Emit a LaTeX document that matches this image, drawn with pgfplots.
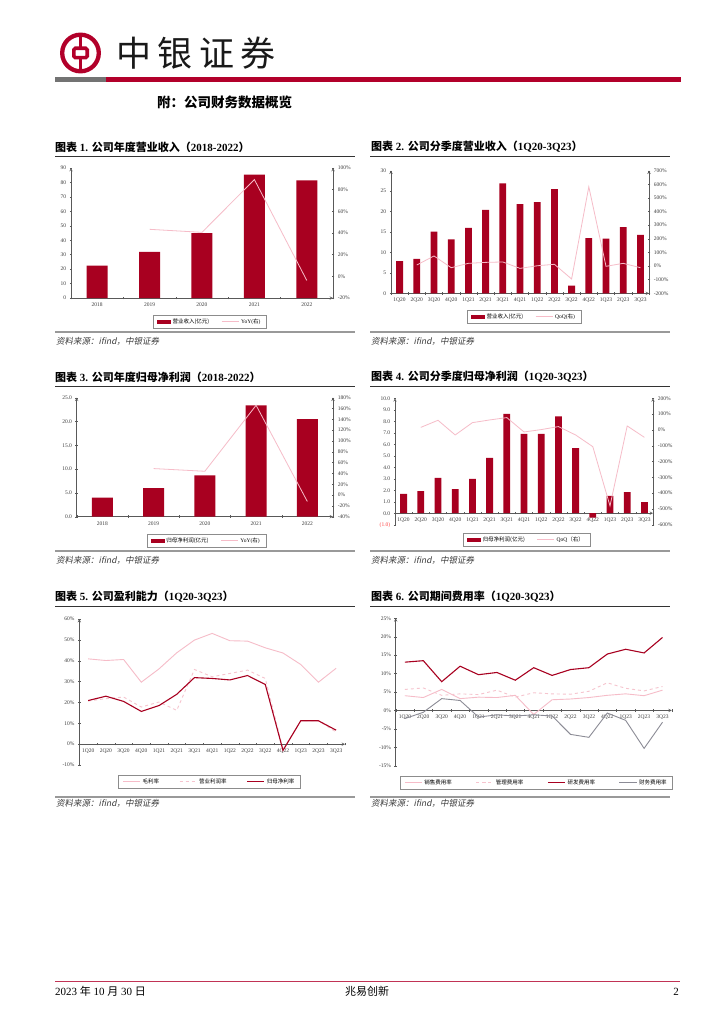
\documentclass[border=0pt]{standalone}
\usepackage{fontspec}
\setmainfont{Liberation Serif}
\newfontfamily\cjk{Noto Sans CJK SC}
\newfontfamily\cjki[FakeSlant=0.2]{Noto Sans CJK SC}
\usepackage{pgfplots}
\pgfplotsset{compat=1.18}
\definecolor{barred}{RGB}{168,0,32}
\definecolor{hdrred}{RGB}{178,0,42}
\definecolor{pinkl}{RGB}{246,188,200}
\definecolor{pinkd}{RGB}{246,196,206}
\definecolor{grayl}{RGB}{140,140,150}
\definecolor{txt}{RGB}{60,60,60}
\newcommand{\C}[1]{{\cjk #1}}
\newcommand{\T}[1]{{\cjk\bfseries #1}}
\pgfplotsset{
  base/.style={scale only axis, anchor=south west, enlargelimits=false,
    font=\fontsize{5.5}{6}\selectfont,
    /pgf/number format/assume math mode=true,
    tick label style={text=txt},
    hide obscured x ticks=false, hide obscured y ticks=false,
    axis line style={black!65, line width=0.5pt},
    every inner x axis line/.append style={-},
    every outer x axis line/.append style={-},
    every inner y axis line/.append style={-},
    every outer y axis line/.append style={-},
    every tick/.style={black!65, line width=0.4pt},
    major tick length=2.5pt,
    tick align=outside,
    clip=false,
    legend style={draw=black!45, line width=0.4pt, font=\fontsize{5.5}{6}\selectfont,
      inner xsep=4pt, inner ysep=1.5pt, legend columns=-1, anchor=north,
      /tikz/every even column/.append style={column sep=10pt}},
  },
  qlab/.style={xmin=-0.5, xmax=14.5, xtick={-0.5,0.5,...,14.5}, x tick label as interval,
    xticklabels={1Q20,2Q20,3Q20,4Q20,1Q21,2Q21,3Q21,4Q21,1Q22,2Q22,3Q22,4Q22,1Q23,2Q23,3Q23}},
  ylab/.style={xmin=-0.5, xmax=4.5, xtick={-0.5,0.5,...,4.5}, x tick label as interval,
    xticklabels={2018,2019,2020,2021,2022}},
  pct/.style={yticklabel={\pgfmathprintnumber{\tick}\%}},
  barlegend/.style={legend image code/.code={\fill[barred] (0pt,-1.6pt) rectangle (13pt,1.6pt);}},
}
\begin{document}
\begin{tikzpicture}
\path[fill=white, use as bounding box] (0,0) rectangle (724pt,-1024pt);
% ---------- header ----------
\draw[hdrred, line width=4.3pt] (80.5pt,-53pt) circle (18.3pt);
\draw[hdrred, line width=3.6pt, rounded corners=1.5pt] (73.8pt,-48.3pt) rectangle (87.2pt,-57.7pt);
\draw[hdrred, line width=3.6pt] (80.5pt,-34pt) -- (80.5pt,-48.3pt);
\draw[hdrred, line width=3.6pt] (80.5pt,-57.7pt) -- (80.5pt,-72pt);
\node[anchor=west, inner sep=0pt, text=black!90] at (116pt,-53pt) {\cjk\fontsize{35}{36}\selectfont 中\hspace{6.5pt}银\hspace{6.5pt}证\hspace{6.5pt}券};
\fill[black!55] (55pt,-77.5pt) rectangle (105.5pt,-82.5pt);
\fill[hdrred] (105.5pt,-77.5pt) rectangle (681pt,-82.5pt);
\node[anchor=west, inner sep=0pt] at (157pt,-102pt) {\cjk\bfseries\fontsize{13.5}{14}\selectfont 附：公司财务数据概览};
% ---------- titles ----------
\node[anchor=west, inner sep=0pt] at (55pt,-147pt) {\fontsize{11}{12}\selectfont\T{图表} \textbf{1.} \T{公司年度营业收入（}\textbf{2018-2022}\T{）}};
\node[anchor=west, inner sep=0pt] at (371pt,-147pt) {\fontsize{11}{12}\selectfont\T{图表} \textbf{2.} \T{公司分季度营业收入（}\textbf{1Q20-3Q23}\T{）}};
\node[anchor=west, inner sep=0pt] at (55pt,-377pt) {\fontsize{11}{12}\selectfont\T{图表} \textbf{3.} \T{公司年度归母净利润（}\textbf{2018-2022}\T{）}};
\node[anchor=west, inner sep=0pt] at (371pt,-377pt) {\fontsize{11}{12}\selectfont\T{图表} \textbf{4.} \T{公司分季度归母净利润（}\textbf{1Q20-3Q23}\T{）}};
\node[anchor=west, inner sep=0pt] at (55pt,-597pt) {\fontsize{11}{12}\selectfont\T{图表} \textbf{5.} \T{公司盈利能力（}\textbf{1Q20-3Q23}\T{）}};
\node[anchor=west, inner sep=0pt] at (371pt,-597pt) {\fontsize{11}{12}\selectfont\T{图表} \textbf{6.} \T{公司期间费用率（}\textbf{1Q20-3Q23}\T{）}};
\foreach \yy in {156,386,606} {
  \draw[black!80, line width=0.8pt] (55pt,-\yy pt) -- (355pt,-\yy pt);
  \draw[black!80, line width=0.8pt] (370pt,-\yy pt) -- (670pt,-\yy pt);
}
% ---------- sources ----------
\foreach \yy/\ty in {332/341, 551/560, 797/803} {
  \draw[black!40, line width=1.6pt] (55pt,-\yy pt) -- (355pt,-\yy pt);
  \draw[black!40, line width=1.6pt] (370pt,-\yy pt) -- (670pt,-\yy pt);
  \node[anchor=west, inner sep=0pt, text=txt] at (56pt,-\ty pt) {\cjki\fontsize{8.5}{9}\selectfont 资料来源：\textit{ifind}，中银证券};
  \node[anchor=west, inner sep=0pt, text=txt] at (371pt,-\ty pt) {\cjki\fontsize{8.5}{9}\selectfont 资料来源：\textit{ifind}，中银证券};
}
% ---------- footer ----------
\draw[hdrred!80, line width=1.2pt] (55pt,-981.5pt) -- (680pt,-981.5pt);
\node[anchor=west, inner sep=0pt] at (55pt,-991.5pt) {\fontsize{11}{12}\selectfont 2023 \C{年} 10 \C{月} 30 \C{日}};
\node[inner sep=0pt] at (367pt,-991.5pt) {\fontsize{11}{12}\selectfont\C{兆易创新}};
\node[anchor=east, inner sep=0pt] at (679pt,-991.5pt) {\fontsize{11}{12}\selectfont 2};

% ================= Chart 1 =================
\begin{axis}[base, ylab, ybar, bar width=21pt, at={(71pt,-298pt)}, width=262pt, height=130pt,
  ymin=0, ymax=90, ytick={0,10,...,90},
  axis x line=bottom, axis y line=left]
\addplot[fill=barred, draw=none] coordinates {(0,22.5)(1,31.9)(2,45.0)(3,85.4)(4,81.5)};
\end{axis}
\begin{axis}[base, ylab, at={(71pt,-298pt)}, width=262pt, height=130pt,
  ymin=-20, ymax=100, ytick={-20,0,...,100}, pct,
  axis y line=right, axis x line=none,
  legend style={at={(0.53,-0.131)}}]
\addlegendimage{barlegend}
\addlegendentry{\C{营业收入(亿元)}}
\addplot[pinkl, line width=0.8pt] coordinates {(1,43.4)(2,40.6)(3,89.3)(4,-3.8)};
\addlegendentry{YoY(\C{右})}
\end{axis}

% ================= Chart 2 =================
\begin{axis}[base, qlab, ybar, bar width=6.8pt, at={(391pt,-293.3pt)}, width=258pt, height=122.6pt,
  ymin=0, ymax=30, ytick={0,5,...,30},
  axis x line=bottom, axis y line=left]
\addplot[fill=barred, draw=none] coordinates {(0,7.9)(1,8.4)(2,15.1)(3,13.2)(4,16.0)(5,20.4)(6,26.9)(7,21.8)(8,22.3)(9,25.5)(10,1.9)(11,13.5)(12,13.4)(13,16.2)(14,14.3)};
\end{axis}
\begin{axis}[base, qlab, at={(391pt,-293.3pt)}, width=258pt, height=122.6pt,
  ymin=-200, ymax=700, ytick={-200,-100,...,700}, pct,
  axis y line=right, axis x line=none,
  legend style={at={(0.516,-0.136)}}]
\addlegendimage{barlegend}
\addlegendentry{\C{营业收入(亿元)}}
\addplot[pinkl, line width=0.8pt] coordinates {(1,7.8)(2,74)(3,-12)(4,20)(5,27)(6,30)(7,-17)(8,2)(9,13)(10,-95)(11,582)(12,-2)(13,20)(14,-12)};
\addlegendentry{QoQ(\C{右})}
\end{axis}

% ================= Chart 3 =================
\begin{axis}[base, ylab, ybar, bar width=21pt, at={(76.7pt,-516.7pt)}, width=256.3pt, height=119pt,
  ymin=0, ymax=25, ytick={0,5,...,25},
  yticklabel style={/pgf/number format/.cd, fixed, fixed zerofill, precision=1},
  axis x line=bottom, axis y line=left]
\addplot[fill=barred, draw=none] coordinates {(0,4.0)(1,6.0)(2,8.7)(3,23.4)(4,20.5)};
\end{axis}
\begin{axis}[base, ylab, at={(76.7pt,-516.7pt)}, width=256.3pt, height=119pt,
  ymin=-40, ymax=180, ytick={-40,-20,...,180}, pct,
  axis y line=right, axis x line=none,
  legend style={at={(0.506,-0.145)}}]
\addlegendimage{barlegend}
\addlegendentry{\C{归母净利润(亿元)}}
\addplot[pinkl, line width=0.8pt] coordinates {(1,49)(2,44)(3,166)(4,-12)};
\addlegendentry{YoY(\C{右})}
\end{axis}

% ================= Chart 4 =================
\begin{axis}[base, qlab, ybar, bar width=6.8pt, at={(395pt,-524.7pt)}, width=258pt, height=126.4pt,
  ymin=-1, ymax=10, ytick={-1,0,...,10},
  yticklabels={{\color{red!75}(1.0)},0.0,1.0,2.0,3.0,4.0,5.0,6.0,7.0,8.0,9.0,10.0},
  axis x line=middle, axis y line=left]
\addplot[fill=barred, draw=none] coordinates {(0,1.68)(1,1.92)(2,3.08)(3,2.09)(4,2.99)(5,4.82)(6,8.65)(7,6.91)(8,6.91)(9,8.42)(10,5.66)(11,-0.38)(12,1.51)(13,1.83)(14,0.96)};
\end{axis}
\begin{axis}[base, qlab, at={(395pt,-524.7pt)}, width=258pt, height=126.4pt,
  ymin=-600, ymax=200, ytick={-600,-500,...,200}, pct,
  axis y line=right, axis x line=none,
  legend style={at={(0.51,-0.066)}}]
\addlegendimage{barlegend}
\addlegendentry{\C{归母净利润(亿元)}}
\addplot[pinkl, line width=0.8pt] coordinates {(1,16)(2,61)(3,-32)(4,46)(5,63)(6,78)(7,-13)(8,2)(9,21)(10,-32)(11,-106)(12,-481)(13,25)(14,-47)};
\addlegendentry{QoQ\C{（右）}}
\end{axis}

% ================= Chart 5 =================
\begin{axis}[base, qlab, at={(79.3pt,-765pt)}, width=265.7pt, height=146pt,
  ymin=-10, ymax=60, ytick={-10,0,...,60}, pct,
  axis x line=middle, axis y line=left,
  legend style={at={(0.49,-0.068)}, /tikz/every even column/.append style={column sep=18pt}}]
\addplot[pinkl, line width=0.9pt] coordinates {(0,40.9)(1,40.1)(2,40.6)(3,29.7)(4,36.1)(5,43.8)(6,49.9)(7,53.1)(8,49.6)(9,49.4)(10,46.2)(11,43.7)(12,38.2)(13,29.7)(14,36.4)};
\addlegendentry{\C{毛利率}}
\addplot[pinkd, line width=0.9pt, dashed] coordinates {(0,20.7)(1,21.8)(2,22.6)(3,17.8)(4,20.2)(5,16.2)(6,35.8)(7,32.3)(8,33.9)(9,35.5)(10,31.5)(11,-2.5)(12,11.2)(13,11.2)(14,5.8)};
\addlegendentry{\C{营业利润率}}
\addplot[barred, line width=1.1pt] coordinates {(0,20.9)(1,23.0)(2,20.5)(3,15.7)(4,18.5)(5,23.9)(6,31.9)(7,31.5)(8,30.8)(9,32.9)(10,28.6)(11,-3.0)(12,11.2)(13,11.2)(14,6.7)};
\addlegendentry{\C{归母净利率}}
\end{axis}

% ================= Chart 6 =================
\begin{axis}[base, qlab, at={(395.7pt,-765.7pt)}, width=276pt, height=147.4pt,
  ymin=-15, ymax=25, ytick={-15,-10,...,25}, pct,
  axis x line=middle, axis y line=left,
  legend style={at={(0.51,-0.07)}, /tikz/every even column/.append style={column sep=22pt}}]
\addplot[pinkl, line width=0.9pt] coordinates {(0,4.0)(1,3.5)(2,5.7)(3,3.2)(4,3.6)(5,3.5)(6,4.1)(7,-1.1)(8,2.9)(9,3.1)(10,3.5)(11,4.1)(12,4.5)(13,4.0)(14,5.5)};
\addlegendentry{\C{销售费用率}}
\addplot[pinkd, line width=0.9pt, dashed] coordinates {(0,5.7)(1,6.1)(2,4.1)(3,4.5)(4,4.3)(5,5.5)(6,3.6)(7,4.8)(8,4.5)(9,4.4)(10,5.2)(11,7.5)(12,6.0)(13,5.3)(14,6.5)};
\addlegendentry{\C{管理费用率}}
\addplot[barred, line width=1.1pt] coordinates {(0,13.1)(1,13.5)(2,7.8)(3,12.0)(4,9.7)(5,10.3)(6,8.2)(7,11.6)(8,9.5)(9,11.1)(10,11.6)(11,15.3)(12,16.6)(13,15.6)(14,19.8)};
\addlegendentry{\C{研发费用率}}
\addplot[grayl, line width=0.9pt] coordinates {(0,-2.2)(1,-0.5)(2,3.2)(3,2.7)(4,-1.8)(5,-1.2)(6,-1.5)(7,-1.2)(8,-1.5)(9,-6.5)(10,-7.3)(11,-0.7)(12,-2.7)(13,-10.3)(14,-3.2)};
\addlegendentry{\C{财务费用率}}
\end{axis}
\end{tikzpicture}
\end{document}
